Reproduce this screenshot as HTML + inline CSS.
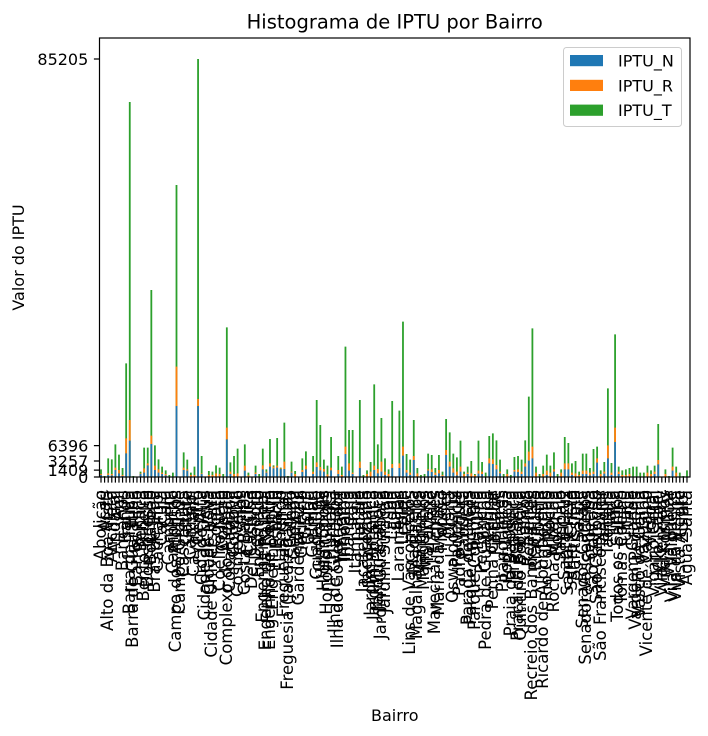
<!DOCTYPE html>
<html><head><meta charset="utf-8">
<style>
html,body{margin:0;padding:0;background:#fff;width:708px;height:736px;overflow:hidden;}
body{position:relative;font-family:"DejaVu Sans","Liberation Sans",sans-serif;}
svg{position:absolute;left:0;top:0;overflow:hidden;}
svg text{font-family:"DejaVu Sans","Liberation Sans",sans-serif;fill:#000;}
.clipbox{position:absolute;left:0;top:484px;width:708px;height:252px;overflow:hidden;}
.xl{position:absolute;top:6px;left:99.2px;width:589.6px;height:0;display:flex;}
.xl i{flex:1 1 0;position:relative;height:0;font-style:normal;}
.xl span{position:absolute;top:0;left:50%;writing-mode:vertical-rl;transform:translateX(-50%) rotate(180deg);white-space:nowrap;line-height:16px;font-size:16.5px;color:#000;}
</style></head><body>
<svg width="708" height="736" viewBox="0 0 708 736" xmlns="http://www.w3.org/2000/svg">
<text x="394.75" y="28.5" font-size="19.5" text-anchor="middle">Histograma de IPTU por Bairro</text>
<g transform="translate(101,320) scale(3.595,0.333333)" fill="none" stroke-linecap="butt">
<path stroke="#2ca02c" stroke-width="0.5" d="M0 471V448M1 471V468M2 471V415M3 471V418M4 471V373M5 471V404M6 471V444M7 471V130M8 471V-654M9 471V468M11 471V455M12 471V383M13 471V383M14 471V-90M15 471V376M16 471V418M17 471V440M18 471V451M19 471V465M20 471V458M21 471V-405M23 471V397M24 471V419M25 471V458M26 471V440M27 471V-783M28 471V408M30 471V453M31 471V455M32 471V436M33 471V443M34 471V462M35 471V22M36 471V427M37 471V408M38 471V386M40 471V373M41 471V458M43 471V437M44 471V462M45 471V386M46 471V448M47 471V357M48 471V436M49 471V354M50 471V443M51 471V308M52 471V468M53 471V425M54 471V453M56 471V415M57 471V394M59 471V408M60 471V240M61 471V315M62 471V419M63 471V437M64 471V351M66 471V408M67 471V440M68 471V80M69 471V330M70 471V330M72 471V240M73 471V465M74 471V451M75 471V426M76 471V193M77 471V373M78 471V294M79 471V415M80 471V448M81 471V243M83 471V272M84 471V5M85 471V402M86 471V419M87 471V300M88 471V444M89 471V465M90 471V462M91 471V401M92 471V405M93 471V444M94 471V405M95 471V455M96 471V297M97 471V337M98 471V401M99 471V412M100 471V362M101 471V455M102 471V440M103 471V423M104 471V462M105 471V362M106 471V426M107 471V458M108 471V348M109 471V340M110 471V361M111 471V419M112 471V462M113 471V448M114 471V465M115 471V411M116 471V408M117 471V419M118 471V361M119 471V230M120 471V25M121 471V440M122 471V462M123 471V437M124 471V404M125 471V437M126 471V397M127 471V462M128 471V448M129 471V351M130 471V369M131 471V430M132 471V423M133 471V455M134 471V401M135 471V401M136 471V444M137 471V387M138 471V380M139 471V451M140 471V426M141 471V205M142 471V429M143 471V43M144 471V440M145 471V451M146 471V448M147 471V444M148 471V440M149 471V440M150 471V458M151 471V458M152 471V437M153 471V451M154 471V437M155 471V312M157 471V448M158 471V468M159 471V383M160 471V440M161 471V458M162 471V468M163 471V451"/>
<path stroke="#ff7f0e" stroke-width="0.5" d="M0 471V462M2 471V460M3 471V462M4 471V443M5 471V450M6 471V465M7 471V355M8 471V300M11 471V460M12 471V445M13 471V430M14 471V347M15 471V437M16 471V448M17 471V458M18 471V462M21 471V140M23 471V443M24 471V448M25 471V465M26 471V465M27 471V237M28 471V460M30 471V465M31 471V465M32 471V460M33 471V462M35 471V323M36 471V455M37 471V462M38 471V460M40 471V437M41 471V466M43 471V458M45 471V436M46 471V455M47 471V430M48 471V440M49 471V437M50 471V445M51 471V425M53 471V455M54 471V462M56 471V450M57 471V437M59 471V455M60 471V427M61 471V441M62 471V447M63 471V463M64 471V443M66 471V450M67 471V465M68 471V380M69 471V430M70 471V458M72 471V425M74 471V462M75 471V455M76 471V437M77 471V447M78 471V425M79 471V455M80 471V462M81 471V432M83 471V430M84 471V380M85 471V450M86 471V458M87 471V408M88 471V460M91 471V448M92 471V448M93 471V458M94 471V450M95 471V465M96 471V390M97 471V425M98 471V445M99 471V455M100 471V440M101 471V462M102 471V458M103 471V460M104 471V465M105 471V452M106 471V455M108 471V415M109 471V418M110 471V435M111 471V455M113 471V462M115 471V450M116 471V448M117 471V455M118 471V430M119 471V395M120 471V380M121 471V458M123 471V462M124 471V452M125 471V458M126 471V448M128 471V458M129 471V430M130 471V430M131 471V458M132 471V460M133 471V465M134 471V452M135 471V452M136 471V458M137 471V455M138 471V415M139 471V462M140 471V455M141 471V376M142 471V458M143 471V323M144 471V455M145 471V465M146 471V465M147 471V462M152 471V458M153 471V462M154 471V455M155 471V420M157 471V462M159 471V440M160 471V458"/>
<path stroke="#1f77b4" stroke-width="0.5" d="M0 471V465M2 471V465M3 471V466M4 471V450M5 471V460M6 471V468M7 471V400M8 471V362M11 471V462M12 471V458M13 471V436M14 471V372M15 471V450M16 471V458M17 471V462M18 471V466M21 471V258M23 471V450M24 471V452M27 471V258M28 471V462M35 471V358M36 471V462M40 471V452M43 471V462M45 471V448M46 471V458M47 471V440M48 471V445M49 471V443M50 471V447M51 471V447M53 471V458M56 471V456M57 471V448M59 471V462M60 471V441M61 471V451M62 471V455M64 471V451M66 471V462M68 471V402M69 471V452M70 471V462M72 471V444M76 471V450M77 471V460M78 471V455M79 471V465M81 471V444M83 471V444M84 471V407M85 471V458M86 471V465M87 471V420M91 471V452M92 471V456M93 471V465M94 471V460M95 471V468M96 471V405M97 471V440M98 471V458M99 471V466M100 471V455M102 471V462M105 471V461M106 471V462M108 471V430M109 471V432M110 471V448M111 471V460M115 471V455M116 471V456M117 471V462M118 471V440M119 471V422M120 471V415M124 471V465M126 471V455M129 471V448M130 471V448M131 471V465M134 471V462M135 471V462M136 471V466M137 471V462M138 471V428M140 471V461M141 471V415M142 471V465M143 471V366M144 471V462M154 471V462M155 471V433M159 471V452"/>
<path d="M0 471V488M1 471V488M2 471V488M3 471V488M4 471V488M5 471V488M6 471V488M7 471V488M8 471V488M9 471V488M10 471V488M11 471V488M12 471V488M13 471V488M14 471V488M15 471V488M16 471V488M17 471V488M18 471V488M19 471V488M20 471V488M21 471V488M22 471V488M23 471V488M24 471V488M25 471V488M26 471V488M27 471V488M28 471V488M29 471V488M30 471V488M31 471V488M32 471V488M33 471V488M34 471V488M35 471V488M36 471V488M37 471V488M38 471V488M39 471V488M40 471V488M41 471V488M42 471V488M43 471V488M44 471V488M45 471V488M46 471V488M47 471V488M48 471V488M49 471V488M50 471V488M51 471V488M52 471V488M53 471V488M54 471V488M55 471V488M56 471V488M57 471V488M58 471V488M59 471V488M60 471V488M61 471V488M62 471V488M63 471V488M64 471V488M65 471V488M66 471V488M67 471V488M68 471V488M69 471V488M70 471V488M71 471V488M72 471V488M73 471V488M74 471V488M75 471V488M76 471V488M77 471V488M78 471V488M79 471V488M80 471V488M81 471V488M82 471V488M83 471V488M84 471V488M85 471V488M86 471V488M87 471V488M88 471V488M89 471V488M90 471V488M91 471V488M92 471V488M93 471V488M94 471V488M95 471V488M96 471V488M97 471V488M98 471V488M99 471V488M100 471V488M101 471V488M102 471V488M103 471V488M104 471V488M105 471V488M106 471V488M107 471V488M108 471V488M109 471V488M110 471V488M111 471V488M112 471V488M113 471V488M114 471V488M115 471V488M116 471V488M117 471V488M118 471V488M119 471V488M120 471V488M121 471V488M122 471V488M123 471V488M124 471V488M125 471V488M126 471V488M127 471V488M128 471V488M129 471V488M130 471V488M131 471V488M132 471V488M133 471V488M134 471V488M135 471V488M136 471V488M137 471V488M138 471V488M139 471V488M140 471V488M141 471V488M142 471V488M143 471V488M144 471V488M145 471V488M146 471V488M147 471V488M148 471V488M149 471V488M150 471V488M151 471V488M152 471V488M153 471V488M154 471V488M155 471V488M156 471V488M157 471V488M158 471V488M159 471V488M160 471V488M161 471V488M162 471V488M163 471V488" stroke="#000" stroke-width="1.2" vector-effect="non-scaling-stroke"/>
</g>
<rect x="99.5" y="38" width="590.5" height="439" fill="none" stroke="#000" stroke-width="1.2"/>
<path d="M93.9 59H99.5M93.9 445.6H99.5M93.9 461H99.5M93.9 470.1H99.5M93.9 477H99.5" stroke="#000" stroke-width="1.2"/>
<g font-size="16" text-anchor="end">
<text x="88.3" y="64.8">85205</text>
<text x="88.3" y="451.4">6396</text>
<text x="88.3" y="466.8">3257</text>
<text x="88.3" y="475.9">1409</text>
<text x="88.3" y="482.8">0</text>
</g>
<text transform="translate(24,257.5) rotate(-90)" font-size="16" text-anchor="middle">Valor do IPTU</text>
<text x="394.75" y="721" font-size="16" text-anchor="middle">Bairro</text>
<rect x="563.5" y="47.5" width="118" height="79" rx="3" ry="3" fill="#fff" fill-opacity="0.8" stroke="#cccccc" stroke-width="1"/>
<rect x="570" y="55" width="33" height="11.2" fill="#1f77b4"/>
<rect x="570" y="79.8" width="33" height="11.2" fill="#ff7f0e"/>
<rect x="570" y="104.6" width="33" height="11.2" fill="#2ca02c"/>
<g font-size="16">
<text x="618" y="66.6">IPTU_N</text>
<text x="618" y="91.4">IPTU_R</text>
<text x="618" y="116.2">IPTU_T</text>
</g>
</svg>
<div class="clipbox"><div class="xl">
<i><span>Abolição</span></i><i><span>Acari</span></i><i><span>Alto da Boa Vista</span></i><i><span>Anchieta</span></i><i><span>Andaraí</span></i><i><span>Anil</span></i><i><span>Bancários</span></i><i><span>Bangu</span></i><i><span>Barra da Tijuca</span></i><i><span>Barra de Guaratiba</span></i>
<i><span>Barros Filho</span></i><i><span>Benfica</span></i><i><span>Bento Ribeiro</span></i><i><span>Bonsucesso</span></i><i><span>Botafogo</span></i><i><span>Brás de Pina</span></i><i><span>Cachambi</span></i><i><span>Cacuia</span></i><i><span>Caju</span></i><i><span>Camorim</span></i>
<i><span>Campinho</span></i><i><span>Campo dos Afonsos</span></i><i><span>Campo Grande</span></i><i><span>Cascadura</span></i><i><span>Catete</span></i><i><span>Catumbi</span></i><i><span>Cavalcanti</span></i><i><span>Centro</span></i><i><span>Cidade Alta</span></i><i><span>Cidade de Deus</span></i>
<i><span>Cidade Nova</span></i><i><span>Cidade Universitária</span></i><i><span>Cocotá</span></i><i><span>Coelho Neto</span></i><i><span>Colégio</span></i><i><span>Complexo do Alemão</span></i><i><span>Copacabana</span></i><i><span>Cordovil</span></i><i><span>Cosme Velho</span></i><i><span>Cosmos</span></i>
<i><span>Costa Barros</span></i><i><span>Curicica</span></i><i><span>Del Castilho</span></i><i><span>Deodoro</span></i><i><span>Encantado</span></i><i><span>Engenheiro Leal</span></i><i><span>Engenho da Rainha</span></i><i><span>Engenho de Dentro</span></i><i><span>Engenho Novo</span></i><i><span>Estácio</span></i>
<i><span>Flamengo</span></i><i><span>Freguesia (Ilha)</span></i><i><span>Freguesia (Jacarepaguá)</span></i><i><span>Galeão</span></i><i><span>Gamboa</span></i><i><span>Gardênia Azul</span></i><i><span>Gericinó</span></i><i><span>Glória</span></i><i><span>Grajaú</span></i><i><span>Grumari</span></i>
<i><span>Guadalupe</span></i><i><span>Guaratiba</span></i><i><span>Higienópolis</span></i><i><span>Honório Gurgel</span></i><i><span>Humaitá</span></i><i><span>Ilha de Guaratiba</span></i><i><span>Ilha do Governador</span></i><i><span>Inhaúma</span></i><i><span>Inhoaíba</span></i><i><span>Ipanema</span></i>
<i><span>Irajá</span></i><i><span>Itanhangá</span></i><i><span>Jacaré</span></i><i><span>Jacarepaguá</span></i><i><span>Jacarezinho</span></i><i><span>Jardim América</span></i><i><span>Jardim Botânico</span></i><i><span>Jardim Carioca</span></i><i><span>Jardim Guanabara</span></i><i><span>Jardim Sulacap</span></i>
<i><span>Joá</span></i><i><span>Lagoa</span></i><i><span>Lapa</span></i><i><span>Laranjeiras</span></i><i><span>Leblon</span></i><i><span>Leme</span></i><i><span>Lins de Vasconcelos</span></i><i><span>Madureira</span></i><i><span>Magalhães Bastos</span></i><i><span>Mangueira</span></i>
<i><span>Manguinhos</span></i><i><span>Maracanã</span></i><i><span>Maré</span></i><i><span>Marechal Hermes</span></i><i><span>Maria da Graça</span></i><i><span>Moneró</span></i><i><span>Méier</span></i><i><span>Olaria</span></i><i><span>Oswaldo Cruz</span></i><i><span>Paciência</span></i>
<i><span>Padre Miguel</span></i><i><span>Paquetá</span></i><i><span>Parada de Lucas</span></i><i><span>Parque Anchieta</span></i><i><span>Parque Colúmbia</span></i><i><span>Pavuna</span></i><i><span>Pechincha</span></i><i><span>Pedra de Guaratiba</span></i><i><span>Penha</span></i><i><span>Penha Circular</span></i>
<i><span>Piedade</span></i><i><span>Pilares</span></i><i><span>Pitangueiras</span></i><i><span>Portuguesa</span></i><i><span>Praia da Bandeira</span></i><i><span>Praça Seca</span></i><i><span>Praça da Bandeira</span></i><i><span>Quintino Bocaiúva</span></i><i><span>Ramos</span></i><i><span>Realengo</span></i>
<i><span>Recreio dos Bandeirantes</span></i><i><span>Riachuelo</span></i><i><span>Ribeira</span></i><i><span>Ricardo de Albuquerque</span></i><i><span>Rio Comprido</span></i><i><span>Rocha</span></i><i><span>Rocha Miranda</span></i><i><span>Rocinha</span></i><i><span>Sampaio</span></i><i><span>Santa Cruz</span></i>
<i><span>Santa Teresa</span></i><i><span>Santo Cristo</span></i><i><span>Santíssimo</span></i><i><span>Saúde</span></i><i><span>Senador Camará</span></i><i><span>Senador Vasconcelos</span></i><i><span>Sepetiba</span></i><i><span>São Conrado</span></i><i><span>São Cristóvão</span></i><i><span>São Francisco Xavier</span></i>
<i><span>Tanque</span></i><i><span>Taquara</span></i><i><span>Tauá</span></i><i><span>Tijuca</span></i><i><span>Todos os Santos</span></i><i><span>Tomás Coelho</span></i><i><span>Turiaçu</span></i><i><span>Urca</span></i><i><span>Vargem Grande</span></i><i><span>Vargem Pequena</span></i>
<i><span>Vasco da Gama</span></i><i><span>Vaz Lobo</span></i><i><span>Vicente de Carvalho</span></i><i><span>Vidigal</span></i><i><span>Vigário Geral</span></i><i><span>Vila Isabel</span></i><i><span>Vila Kennedy</span></i><i><span>Vila Kosmos</span></i><i><span>Vila Militar</span></i><i><span>Vila Valqueire</span></i>
<i><span>Vila da Penha</span></i><i><span>Vista Alegre</span></i><i><span>Zumbi</span></i><i><span>Água Santa</span></i>
</div></div>
</body></html>
